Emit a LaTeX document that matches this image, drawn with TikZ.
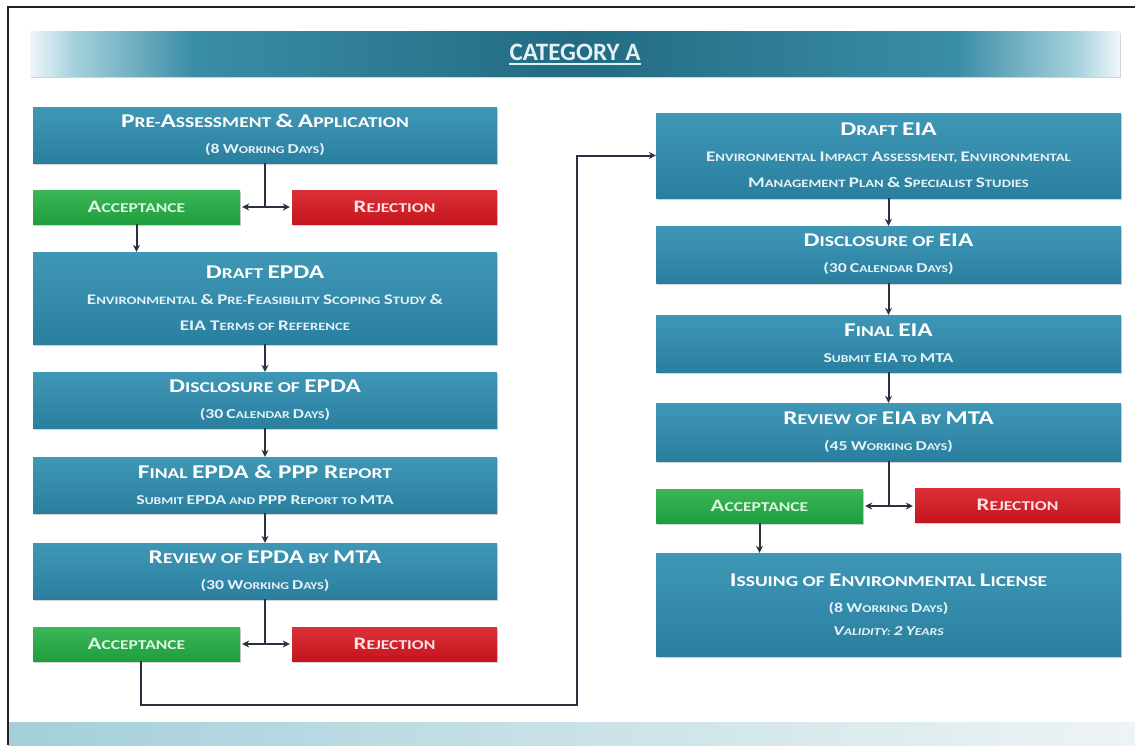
\documentclass[tikz,border=0pt]{standalone}
\usepackage{fontspec}
\usepackage{graphicx}
\setmainfont{Carlito}[FakeStretch=1.3]
\newfontfamily\ttlfont{Carlito}
\usetikzlibrary{shadows,arrows.meta}
\newcommand\U[1]{\scalebox{1.3}{#1}}
\newcommand\subf{\fontsize{10.5}{25}\selectfont}
\newcommand\detf{\fontsize{11.3}{24}\selectfont}
\definecolor{tealA}{HTML}{2A7F9F}
\definecolor{tealT}{HTML}{3F97B6}
\definecolor{grnA}{HTML}{1F9E3E}
\definecolor{grnT}{HTML}{3CB657}
\definecolor{redA}{HTML}{C5151E}
\definecolor{redT}{HTML}{DC3038}
\definecolor{lnk}{HTML}{2A3242}
\definecolor{frm}{HTML}{222222}
\definecolor{bn0}{HTML}{EEF7F9}
\definecolor{bn1}{HTML}{A6D1DD}
\definecolor{bn2}{HTML}{3A8DA6}
\definecolor{bn3}{HTML}{226B82}
\definecolor{band1}{HTML}{A3CFD9}
\definecolor{band2}{HTML}{EEF4F5}
\definecolor{acct}{HTML}{DDF6DF}
\definecolor{rejt}{HTML}{FCE3E3}
\definecolor{subt}{HTML}{E6F2F6}
\definecolor{ttlt}{HTML}{E2F2F6}
\pgfdeclarehorizontalshading{banner}{100bp}{color(0bp)=(bn0); color(25bp)=(bn0); color(27bp)=(bn1); color(32.5bp)=(bn2); color(50bp)=(bn3); color(67.5bp)=(bn2); color(73bp)=(bn1); color(75bp)=(bn0); color(100bp)=(bn0)}
\tikzset{
  shd/.style={drop shadow={shadow xshift=1pt,shadow yshift=-2pt,opacity=0.35}},
  box/.style={rectangle, inner sep=0pt, top color=tealT, bottom color=tealA, shd,
    text=white, align=center, font=\bfseries\fontsize{15}{26}\selectfont},
  lbox/.style={box, minimum width=464pt, minimum height=#1},
  rbox/.style={box, minimum width=465pt, minimum height=#1},
  accbox/.style={rectangle, inner sep=0pt, top color=grnT, bottom color=grnA, shd,
    text=acct, minimum width=207pt, minimum height=34pt, font=\bfseries\fontsize{13.5}{15}\selectfont},
  rejbox/.style={rectangle, inner sep=0pt, top color=redT, bottom color=redA, shd,
    text=rejt, minimum width=205pt, minimum height=34pt, font=\bfseries\fontsize{13.5}{15}\selectfont},
  ln/.style={draw=lnk, line width=2pt},
  arr/.style={ln, -{Stealth[length=7pt,width=7pt]}},
  dbl/.style={ln, {Stealth[length=7pt,width=7pt]}-{Stealth[length=7pt,width=7pt]}, shorten <=2pt, shorten >=2pt}
}
\begin{document}
\begin{tikzpicture}[x=1pt,y=-1pt]
\useasboundingbox (0,0) rectangle (1135,745);
\fill[white] (0,0) rectangle (1135,745);
\shade[left color=band1,right color=band2] (8,722) rectangle (1135,745);
\draw[line width=2pt,color=frm] (8,745) -- (8,7) -- (1135,7);
\path[shade, shading=banner, shd] (30,31) rectangle (1120,76);
\node[inner sep=0pt, text=ttlt, font=\ttlfont\bfseries\fontsize{25}{27}\selectfont] (ttl) at (575,52) {CATEGORY A};
\draw[ttlt, line width=1.4pt] ([yshift=-4pt]ttl.base west) -- ([yshift=-4pt]ttl.base east);

% left column
\node[lbox=56pt] (pre) at (265,135) {\U{P}RE-\U{A}SSESSMENT \U{\&} \U{A}PPLICATION\\ {\subf\color{subt}\U{(8} \U{W}ORKING \U{D}AYS\U{)}}};
\node[accbox] (acc1) at (136.5,207) {\U{A}CCEPTANCE};
\node[rejbox] (rej1) at (394.5,207) {\U{R}EJECTION};
\node[lbox=92pt] (depda) at (265,298) {\U{D}RAFT \U{EPDA}\\ {\detf\color{subt}\U{E}NVIRONMENTAL \U{\&} \U{P}RE-\U{F}EASIBILITY \U{S}COPING \U{S}TUDY \U{\&}}\\ {\detf\color{subt}\U{EIA T}ERMS OF \U{R}EFERENCE}};
\node[lbox=56pt] (depdisc) at (265,400) {\U{D}ISCLOSURE OF \U{EPDA}\\ {\subf\color{subt}\U{(30} \U{C}ALENDAR \U{D}AYS\U{)}}};
\node[lbox=56pt] (fepda) at (265,485) {\U{F}INAL \U{EPDA \& PPP R}EPORT\\ {\subf\color{subt}\U{S}UBMIT \U{EPDA} AND \U{PPP R}EPORT TO \U{MTA}}};
\node[lbox=56pt] (repda) at (265,571) {\U{R}EVIEW OF \U{EPDA} BY \U{MTA}\\ {\subf\color{subt}\U{(30} \U{W}ORKING \U{D}AYS\U{)}}};
\node[accbox] (acc2) at (136.5,644) {\U{A}CCEPTANCE};
\node[rejbox] (rej2) at (394.5,644) {\U{R}EJECTION};

% right column
\node[rbox=85pt] (deia) at (888.5,155.5) {\U{D}RAFT \U{EIA}\\ {\detf\color{subt}\U{E}NVIRONMENTAL \U{I}MPACT \U{A}SSESSMENT, \U{E}NVIRONMENTAL}\\ {\detf\color{subt}\U{M}ANAGEMENT \U{P}LAN \U{\&} \U{S}PECIALIST \U{S}TUDIES}};
\node[rbox=57pt] (disceia) at (888.5,254.5) {\U{D}ISCLOSURE OF \U{EIA}\\ {\subf\color{subt}\U{(30} \U{C}ALENDAR \U{D}AYS\U{)}}};
\node[rbox=57pt] (feia) at (888.5,343.5) {\U{F}INAL \U{EIA}\\ {\subf\color{subt}\U{S}UBMIT \U{EIA} TO \U{MTA}}};
\node[rbox=58pt] (reia) at (888.5,432) {\U{R}EVIEW OF \U{EIA} BY \U{MTA}\\ {\subf\color{subt}\U{(45} \U{W}ORKING \U{D}AYS\U{)}}};
\node[accbox] (acc3) at (759.5,506) {\U{A}CCEPTANCE};
\node[rejbox] (rej3) at (1017.5,505) {\U{R}EJECTION};
\node[rbox=103pt] (issue) at (888.5,604.5) {\U{I}SSUING OF \U{E}NVIRONMENTAL \U{L}ICENSE\\ {\subf\color{subt}\U{(8} \U{W}ORKING \U{D}AYS\U{)}}\\[-3pt] {\subf\color{subt}\itshape\U{V}ALIDITY: \U{2} \U{Y}EARS}};

% connectors left
\draw[ln] (pre.south) -- (pre.south |- acc1.east);
\draw[dbl] (acc1.east) -- (acc1.east -| rej1.west);
\draw[arr] (acc1.south) -- (acc1.south |- depda.north);
\draw[arr] (depda.south) -- (depdisc.north);
\draw[arr] (depdisc.south) -- (fepda.north);
\draw[arr] (fepda.south) -- (repda.north);
\draw[ln] (repda.south) -- (repda.south |- acc2.east);
\draw[dbl] (acc2.east) -- (acc2.east -| rej2.west);
\coordinate (bl) at (577,705);
\draw[arr] ([xshift=4pt]acc2.south) |- (bl) |- (deia.west);

% connectors right
\draw[arr] (deia.south) -- (disceia.north);
\draw[arr] (disceia.south) -- (feia.north);
\draw[arr] (feia.south) -- (reia.north);
\draw[ln] (reia.south) -- (reia.south |- acc3.east);
\draw[dbl] (acc3.east) -- (acc3.east -| rej3.west);
\draw[arr] (acc3.south) -- (acc3.south |- issue.north);
\end{tikzpicture}
\end{document}
